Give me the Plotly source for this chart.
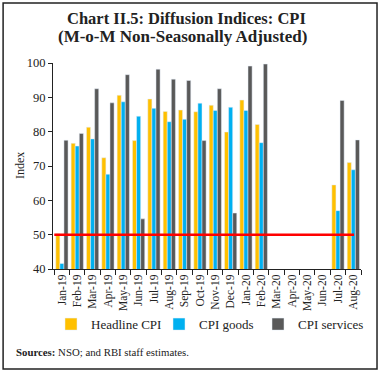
import plotly.graph_objects as go

months = ["Jan-19","Feb-19","Mar-19","Apr-19","May-19","Jun-19","Jul-19","Aug-19","Sep-19","Oct-19",
          "Nov-19","Dec-19","Jan-20","Feb-20","Mar-20","Apr-20","May-20","Jun-20","Jul-20","Aug-20"]
headline = [50.3, 76.6, 81.3, 72.4, 90.6, 77.4, 89.5, 85.9, 86.3, 85.8,
            87.7, 79.9, 89.2, 82.1, None, None, None, None, 64.5, 71.0]
goods = [41.6, 75.8, 77.9, 67.6, 88.7, 84.5, 86.8, 82.9, 83.6, 88.3,
         86.2, 87.1, 86.2, 76.8, None, None, None, None, 57.0, 68.9]
services = [77.5, 79.5, 92.5, 88.4, 96.6, 54.6, 98.2, 95.3, 94.9, 77.4,
            92.5, 56.3, 99.1, 99.7, None, None, None, None, 89.1, 77.6]
threshold = 50

serif = "Liberation Serif"
ink = "#222222"
fig = go.Figure()
fig.add_trace(go.Bar(x=months, y=headline, name="Headline CPI", marker_color="#FFC000", base=0,
                     legend="legend"))
fig.add_trace(go.Bar(x=months, y=goods, name="CPI goods", marker_color="#00B0F0", base=0,
                     legend="legend2"))
fig.add_trace(go.Bar(x=months, y=services, name="CPI services", marker_color="#595959", base=0,
                     legend="legend3"))

fig.add_shape(type="line", xref="x", yref="y", x0=-0.5, x1=19.05, y0=threshold, y1=threshold,
              line=dict(color="#FF0000", width=2.5))
fig.add_shape(type="rect", xref="paper", yref="paper", x0=-0.162, x1=1.052, y0=-0.485, y1=1.291,
              line=dict(color=ink, width=1.5))

leg = dict(orientation="h", xref="container", xanchor="left", y=-0.195, yanchor="top",
           font=dict(family=serif, size=13, color=ink), itemwidth=30, bgcolor="rgba(0,0,0,0)")
fig.update_layout(
    width=380, height=373,
    margin=dict(l=53, r=19, t=63, b=104, autoexpand=False),
    paper_bgcolor="white", plot_bgcolor="white",
    barmode="group", bargap=0.2, bargroupgap=0,
    font=dict(family=serif, color=ink, size=12),
    showlegend=True,
    legend=dict(leg, x=51 / 380),
    legend2=dict(leg, x=159 / 380),
    legend3=dict(leg, x=258 / 380),
    xaxis=dict(type="category", showgrid=False, showline=True, linecolor=ink,
               ticks="outside", tickson="boundaries", ticklen=5, tickcolor=ink,
               tickangle=-90, tickfont=dict(family=serif, size=11.5), automargin=False),
    yaxis=dict(range=[40, 100], dtick=10, showgrid=False, showline=True, linecolor=ink,
               ticks="outside", ticklen=4, tickcolor=ink, zeroline=False, automargin=False,
               tickfont=dict(family=serif, size=12.5)),
)
fig.add_annotation(xref="paper", x=-0.107, yref="paper", y=0.5, xanchor="center", yanchor="middle",
                   text="Index", textangle=-90, showarrow=False,
                   font=dict(family=serif, size=12, color=ink))
fig.add_annotation(xref="paper", yref="paper", x=(186 - 53) / 308, y=1.218, xanchor="center",
                   yanchor="middle", text="<b>Chart II.5: Diffusion Indices: CPI</b>", showarrow=False,
                   font=dict(family=serif, size=16.5, color=ink))
fig.add_annotation(xref="paper", yref="paper", x=(182 - 53) / 308, y=1.131, xanchor="center",
                   yanchor="middle", text="<b>(M-o-M Non-Seasonally Adjusted)</b>", showarrow=False,
                   font=dict(family=serif, size=17, color=ink))
fig.add_annotation(xref="paper", yref="paper", x=-0.127, y=-0.403, xanchor="left", yanchor="middle",
                   text="<b>Sources:</b> NSO; and RBI staff estimates.", showarrow=False,
                   font=dict(family=serif, size=10.8, color=ink))
fig.write_html("out.html", config={"displayModeBar": False},
               post_script="document.body.style.margin='0';")
